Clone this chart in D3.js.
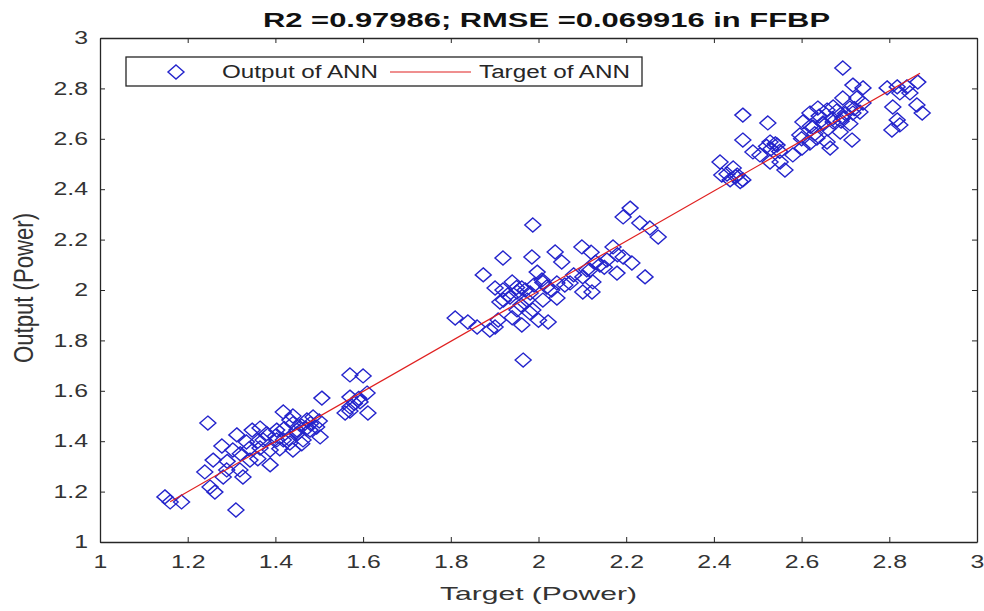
<!DOCTYPE html>
<html>
<head>
<meta charset="utf-8">
<script src="https://cdn.jsdelivr.net/npm/d3@7"></script>
<style>
  body { margin: 0; background: #fff; }
  text { font-family: "Liberation Sans", Arial, sans-serif; }
  .tick text { fill: #333; font-size: 18px; }
  .tick line, .domain { stroke: #262626; }
</style>
</head>
<body>
<script>
// target values (x) and ANN output (y)
const targetVals = [
  1.570,1.600,1.506,1.611,1.570,1.559,1.593,1.609,1.570,1.246,1.418,1.502,1.278,1.258,1.239,
  1.312,1.334,1.347,1.365,1.388,1.403,1.433,1.449,1.472,1.486,1.463,1.440,1.418,1.388,1.342,
  1.319,1.326,1.289,1.281,1.251,1.262,1.148,1.160,1.186,1.310,1.303,1.365,1.372,1.479,1.494,
  1.403,1.433,
  1.42,1.44,1.46,1.45,1.47,1.43,1.48,1.40,1.36,1.38,1.50,1.34,1.32,1.46,1.41,1.36,1.29,1.44,
  1.57,1.58,1.59,
  1.987,2.209,2.193,2.231,2.254,2.273,1.919,1.985,2.038,2.053,2.099,1.874,1.901,1.940,1.962,
  1.997,2.008,2.019,2.042,2.072,2.101,2.117,2.140,2.156,2.170,2.193,2.213,2.179,2.243,2.124,
  2.101,2.122,2.042,2.010,1.987,2.022,1.962,1.951,1.908,1.901,1.889,1.860,1.839,1.810,1.965,
  1.919,1.935,1.951,1.981,1.912,1.974,
  1.93,1.95,1.97,1.99,1.92,1.96,2.01,2.03,1.94,1.98,2.00,2.11,2.13,2.15,2.08,2.06,2.18,2.12,
  2.694,2.466,2.523,2.466,2.489,2.528,2.505,2.544,2.414,2.444,2.418,2.453,2.466,2.437,2.562,
  2.601,2.596,2.603,2.619,2.637,2.658,2.672,2.694,2.717,2.740,2.726,2.740,2.710,2.694,2.672,
  2.649,2.626,2.635,2.658,2.715,2.688,2.619,2.665,2.717,2.733,2.795,2.818,2.840,2.865,2.824,
  2.847,2.808,2.863,2.875,2.818,2.806,2.824,2.580,2.551,2.528,
  2.65,2.67,2.69,2.70,2.66,2.68,2.63,2.72,2.71,2.62,2.53,2.54,2.52,2.55,2.45,2.46,2.43,2.60,2.64
]
const outputVals = [
  1.663,1.659,1.571,1.512,1.575,1.512,1.556,1.591,1.536,1.472,1.516,1.417,1.381,1.325,1.278,
  1.425,1.397,1.444,1.452,1.365,1.444,1.484,1.444,1.484,1.496,1.405,1.365,1.405,1.306,1.325,
  1.286,1.258,1.286,1.258,1.218,1.198,1.179,1.159,1.159,1.127,1.365,1.373,1.405,1.444,1.456,
  1.405,1.393,
  1.45,1.47,1.46,1.43,1.45,1.41,1.47,1.42,1.40,1.43,1.48,1.37,1.35,1.39,1.37,1.33,1.32,1.50,
  1.52,1.55,1.57,
  2.258,2.325,2.290,2.266,2.246,2.210,2.127,2.131,2.151,2.111,2.171,2.060,2.008,2.032,2.008,
  2.071,2.040,2.012,2.028,2.028,2.052,2.079,2.099,2.119,2.171,2.131,2.107,2.067,2.052,2.032,
  1.992,1.992,1.968,1.960,1.921,1.873,1.861,1.921,1.881,1.853,1.841,1.853,1.873,1.889,1.722,
  2.000,1.972,1.992,1.988,1.952,1.960,
  1.98,2.01,2.00,2.02,1.96,1.94,2.03,2.00,1.89,1.91,1.88,2.08,2.11,2.09,2.06,2.02,2.14,2.15,
  2.881,2.694,2.663,2.595,2.548,2.587,2.536,2.575,2.508,2.484,2.456,2.456,2.437,2.437,2.476,
  2.563,2.615,2.667,2.702,2.722,2.714,2.726,2.762,2.813,2.802,2.762,2.742,2.722,2.683,2.667,
  2.663,2.647,2.603,2.587,2.595,2.627,2.583,2.563,2.702,2.706,2.802,2.806,2.806,2.825,2.782,
  2.782,2.726,2.734,2.702,2.675,2.635,2.655,2.536,2.508,2.508,
  2.66,2.68,2.67,2.70,2.64,2.71,2.62,2.72,2.66,2.65,2.56,2.58,2.57,2.55,2.45,2.43,2.46,2.60,2.69
]
// target line end points
const lineX = [1.16, 2.87]
const lineY = [1.16, 2.86]
const ticks = [1, 1.2, 1.4, 1.6, 1.8, 2, 2.2, 2.4, 2.6, 2.8, 3]

const width = 984, height = 611
const margin = {top: 38, right: 7, bottom: 69, left: 100}
const stretch = 1.38 // the picture is wider than tall, text looks pulled sideways

const svg = d3.select("body").append("svg")
  .attr("width", width)
  .attr("height", height)

const xScale = d3.scaleLinear().domain([1, 3]).range([margin.left, width - margin.right])
const yScale = d3.scaleLinear().domain([1, 3]).range([height - margin.bottom, margin.top])

const fmt = d => d3.format("")(+d.toFixed(1))

function widen(sel, k) {
  sel.each(function() {
    const l = this.getComputedTextLength()
    d3.select(this).attr("textLength", l * k).attr("lengthAdjust", "spacingAndGlyphs")
  })
}

// axes, ticks pointing inwards like matlab
const xAxis = svg.append("g")
  .attr("transform", "translate(0," + yScale(1) + ")")
  .call(d3.axisBottom(xScale).tickValues(ticks).tickSizeInner(-5).tickSizeOuter(0).tickPadding(13).tickFormat(fmt))
svg.append("g")
  .attr("transform", "translate(0," + yScale(3) + ")")
  .call(d3.axisTop(xScale).tickValues(ticks).tickSizeInner(-5).tickSizeOuter(0).tickFormat(""))
const yAxis = svg.append("g")
  .attr("transform", "translate(" + xScale(1) + ",0)")
  .call(d3.axisLeft(yScale).tickValues(ticks).tickSizeInner(-5).tickSizeOuter(0).tickPadding(12).tickFormat(fmt))
svg.append("g")
  .attr("transform", "translate(" + xScale(3) + ",0)")
  .call(d3.axisRight(yScale).tickValues(ticks).tickSizeInner(-5).tickSizeOuter(0).tickFormat(""))
svg.selectAll(".domain").attr("stroke-width", 1.3)
widen(xAxis.selectAll("text"), stretch)
widen(yAxis.selectAll("text"), stretch)

const points = targetVals.map((t, i) => ({t: t, o: outputVals[i]}))
// diamond marker, a bit wider than tall
const diamond = "M0,-7L8,0L0,7L-8,0Z"

svg.selectAll(".dot")
  .data(points)
  .enter().append("path")
  .attr("class", "dot")
  .attr("d", diamond)
  .attr("transform", d => "translate(" + xScale(d.t) + "," + yScale(d.o) + ")")
  .attr("fill", "none")
  .attr("stroke", "#2424cc")
  .attr("stroke-width", 1.4)

svg.append("path")
  .attr("d", d3.line().x((d, i) => xScale(d)).y((d, i) => yScale(lineY[i]))(lineX))
  .attr("fill", "none")
  .attr("stroke", "#e02020")
  .attr("stroke-width", 1.2)

// legend
const legend = svg.append("g")
legend.append("rect")
  .attr("x", 126).attr("y", 57).attr("width", 516).attr("height", 29)
  .attr("fill", "#fff").attr("stroke", "#262626").attr("stroke-width", 1.3)
legend.append("path")
  .attr("d", diamond)
  .attr("transform", "translate(176,72)")
  .attr("fill", "none").attr("stroke", "#2424cc").attr("stroke-width", 1.4)
legend.append("text").text("Output of ANN")
  .attr("x", 222).attr("y", 78).attr("font-size", 18).attr("fill", "#262626")
  .attr("textLength", 156).attr("lengthAdjust", "spacingAndGlyphs")
legend.append("line")
  .attr("x1", 390).attr("x2", 471).attr("y1", 72).attr("y2", 72)
  .attr("stroke", "#e02020").attr("stroke-width", 1.2)
legend.append("text").text("Target of ANN")
  .attr("x", 479).attr("y", 78).attr("font-size", 18).attr("fill", "#262626")
  .attr("textLength", 151).attr("lengthAdjust", "spacingAndGlyphs")

svg.append("text")
  .text("R2 =0.97986; RMSE =0.069916 in FFBP")
  .attr("x", 263).attr("y", 27)
  .attr("font-size", 20).attr("font-weight", "bold").attr("fill", "#111")
  .attr("textLength", 567).attr("lengthAdjust", "spacingAndGlyphs")

svg.append("text")
  .text("Target (Power)")
  .attr("x", 440).attr("y", 600)
  .attr("font-size", 19).attr("fill", "#333")
  .attr("textLength", 197).attr("lengthAdjust", "spacingAndGlyphs")

svg.append("text")
  .text("Output (Power)")
  .attr("transform", "translate(33,288) rotate(-90) scale(1,1.45)")
  .attr("text-anchor", "middle")
  .attr("font-size", 19).attr("fill", "#333")
  .attr("textLength", 150).attr("lengthAdjust", "spacingAndGlyphs")
</script>
</body>
</html>
